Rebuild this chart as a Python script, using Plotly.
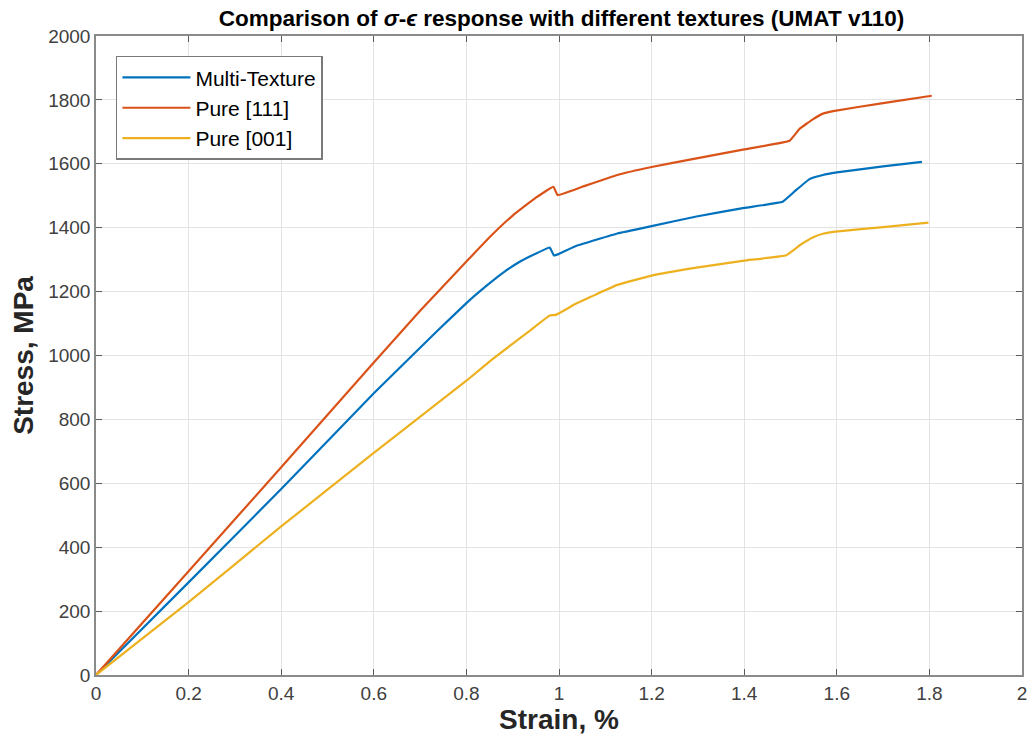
import plotly.graph_objects as go

# ---- data ----
multi_x = [0, 0.2, 0.4, 0.6, 0.738, 0.8, 0.845, 0.881, 0.917, 0.953, 0.980, 0.989, 1.0, 1.039, 1.126, 1.2, 1.297, 1.4, 1.483, 1.51, 1.541, 1.57, 1.6, 1.7, 1.784]
multi_y = [0, 290, 582, 882, 1078, 1164, 1220, 1261, 1295, 1321, 1338, 1313, 1318, 1344, 1382, 1405, 1435, 1462, 1481, 1515, 1552, 1565, 1573, 1592, 1606]

p111_x = [0, 0.2, 0.4, 0.6, 0.7, 0.8, 0.85, 0.9, 0.95, 0.988, 0.997, 1.05, 1.126, 1.2, 1.297, 1.4, 1.498, 1.52, 1.549, 1.57, 1.592, 1.7, 1.805]
p111_y = [0, 325, 650, 978, 1140, 1294, 1370, 1438, 1494, 1528, 1502, 1528, 1565, 1590, 1617, 1645, 1672, 1710, 1740, 1757, 1765, 1790, 1813]

p001_x = [0, 0.2, 0.4, 0.6, 0.8, 0.853, 0.933, 0.980, 0.993, 1.039, 1.126, 1.2, 1.297, 1.4, 1.491, 1.52, 1.549, 1.57, 1.592, 1.7, 1.798]
p001_y = [0, 228, 465, 695, 921, 985, 1073, 1125, 1127, 1164, 1221, 1250, 1275, 1297, 1314, 1345, 1370, 1381, 1387, 1402, 1416]

series_names = ["Multi-Texture", "Pure [111]", "Pure [001]"]
series_colors = ["#0072BD", "#D95319", "#EDB120"]

x_ticks = [0, 0.2, 0.4, 0.6, 0.8, 1, 1.2, 1.4, 1.6, 1.8, 2]
x_tick_text = ["0", "0.2", "0.4", "0.6", "0.8", "1", "1.2", "1.4", "1.6", "1.8", "2"]
y_ticks = [0, 200, 400, 600, 800, 1000, 1200, 1400, 1600, 1800, 2000]

FONT = "Liberation Sans, Arial, Helvetica, sans-serif"

fig = go.Figure()
for xs, ys, name, color in zip([multi_x, p111_x, p001_x], [multi_y, p111_y, p001_y],
                               series_names, series_colors):
    fig.add_trace(go.Scatter(x=xs, y=ys, mode="lines", name=name,
                             line=dict(color=color, width=2.2, shape="spline", smoothing=0.25)))

axis_common = dict(
    showline=True, linecolor="#8a8a8a", linewidth=1.5, mirror="ticks",
    ticks="inside", ticklen=6, tickcolor="#5a5a5a", tickwidth=1,
    showgrid=True, gridcolor="#e3e3e3", gridwidth=1,
    zeroline=False,
    tickfont=dict(family=FONT, size=19, color="#404040"),
)

fig.update_layout(
    width=1036, height=744,
    margin=dict(l=96, r=9, t=36, b=69),
    paper_bgcolor="white", plot_bgcolor="white",
    font=dict(family=FONT, color="#000000"),
    title=dict(text="<b>Comparison of <i>σ</i>-<i>ϵ</i> response with different textures (UMAT v110)</b>",
               x=(96 + 1027) / 2 / 1036, xanchor="center", y=0.976, yanchor="middle",
               font=dict(family=FONT, size=22.5, color="#000000")),
    xaxis=dict(range=[0, 2], tickvals=x_ticks, ticktext=x_tick_text,
               title=dict(text="<b>Strain, %</b>", font=dict(family=FONT, size=28, color="#262626"), standoff=4),
               **axis_common),
    yaxis=dict(range=[0, 2000], tickvals=y_ticks,
               title=dict(text="<b>Stress, MPa</b>", font=dict(family=FONT, size=28, color="#262626"), standoff=6),
               **axis_common),
    legend=dict(x=0.0215, y=0.969, xanchor="left", yanchor="top",
                bgcolor="white", bordercolor="#7a7a7a", borderwidth=1.5,
                font=dict(family=FONT, size=21, color="#000000"),
                itemwidth=68, tracegroupgap=0),
    showlegend=True,
)

fig.write_html("out.html")
